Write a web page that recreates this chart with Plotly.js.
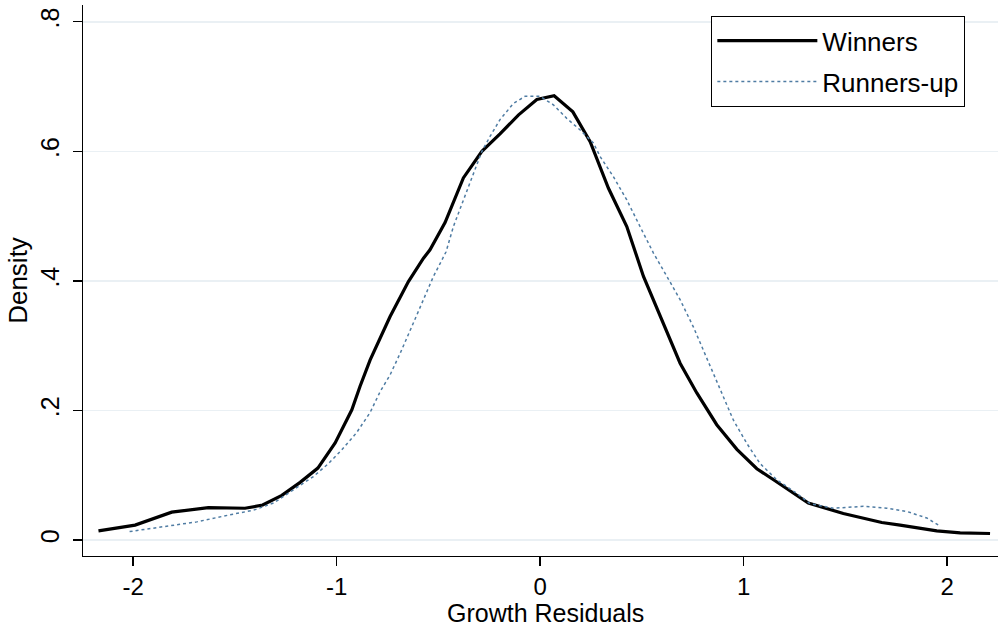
<!DOCTYPE html>
<html>
<head>
<meta charset="utf-8">
<script src="https://cdn.plot.ly/plotly-3.0.1.min.js"></script>
<style>html,body{margin:0;padding:0;background:#fff}#chart{width:998px;height:631px}</style>
</head>
<body>
<div id="chart"></div>
<script>
var winnersX = [-2.170,-1.990,-1.810,-1.630,-1.450,-1.363,-1.269,-1.179,-1.092,-1.007,-0.925,-0.885,-0.835,-0.786,-0.737,-0.647,-0.573,-0.541,-0.467,-0.377,-0.286,-0.197,-0.107,-0.016,0.069,0.161,0.246,0.336,0.426,0.508,0.590,0.688,0.770,0.868,0.967,1.065,1.147,1.318,1.490,1.679,1.769,1.949,2.064,2.211];
var winnersY = [0.014,0.023,0.043,0.050,0.049,0.054,0.069,0.089,0.111,0.150,0.201,0.237,0.278,0.311,0.345,0.399,0.435,0.448,0.490,0.559,0.600,0.627,0.656,0.680,0.686,0.661,0.615,0.543,0.484,0.407,0.345,0.273,0.227,0.178,0.140,0.110,0.093,0.057,0.041,0.027,0.023,0.014,0.011,0.010];
var runnersX = [-2.017,-1.851,-1.687,-1.523,-1.409,-1.310,-1.212,-1.114,-1.040,-0.975,-0.901,-0.835,-0.786,-0.737,-0.688,-0.639,-0.598,-0.557,-0.524,-0.491,-0.462,-0.426,-0.377,-0.328,-0.286,-0.246,-0.197,-0.131,-0.074,0.000,0.065,0.131,0.197,0.262,0.295,0.360,0.426,0.491,0.557,0.623,0.688,0.753,0.802,0.852,0.901,0.950,1.016,1.081,1.163,1.261,1.327,1.441,1.589,1.704,1.802,1.900,1.957];
var runnersY = [0.013,0.020,0.028,0.039,0.046,0.057,0.077,0.098,0.118,0.139,0.166,0.197,0.229,0.255,0.288,0.322,0.353,0.383,0.407,0.427,0.445,0.484,0.525,0.566,0.600,0.623,0.649,0.674,0.685,0.685,0.672,0.651,0.633,0.613,0.592,0.561,0.525,0.484,0.443,0.407,0.371,0.329,0.293,0.257,0.221,0.185,0.149,0.118,0.093,0.072,0.056,0.049,0.052,0.049,0.044,0.034,0.023];
var xTickVals = [-2,-1,0,1,2];
var xTickText = ["-2","-1","0","1","2"];
var yTickVals = [0,0.2,0.4,0.6,0.8];
var yTickText = ["0",".2",".4",".6",".8"];
var xTitle = 'Growth Residuals';
var yTitle = 'Density';

var font = "'Liberation Sans', Arial, Helvetica, sans-serif";
var traces = [
  {x: winnersX, y: winnersY, type: 'scatter', mode: 'lines', name: 'Winners', legendgroup: 'a',
   line: {color: '#000000', width: 3.2}},
  {x: runnersX, y: runnersY, type: 'scatter', mode: 'lines', name: 'Runners-up', legendgroup: 'b',
   line: {color: '#4f7ca3', width: 1.5, dash: 'dot'}}
];
var layout = {
  width: 998, height: 631,
  margin: {l: 83, r: 0, t: 5, b: 75},
  paper_bgcolor: '#ffffff', plot_bgcolor: '#ffffff',
  font: {family: font, size: 26, color: '#000'},
  xaxis: {range: [-2.246, 2.25], tickvals: xTickVals, ticktext: xTickText,
    showgrid: false, zeroline: false, showline: true, linecolor: '#000', linewidth: 1.3,
    ticks: 'outside', ticklen: 9, tickwidth: 1.3, tickcolor: '#000',
    tickfont: {size: 24}, ticklabelstandoff: 0},
  yaxis: {range: [-0.0247, 0.826], tickvals: yTickVals, ticktext: yTickText, tickangle: -90,
    showgrid: true, gridcolor: '#eaf0f4', gridwidth: 1.5, zeroline: false,
    showline: true, linecolor: '#000', linewidth: 1.3,
    ticks: 'outside', ticklen: 9, tickwidth: 1.3, tickcolor: '#000',
    tickfont: {size: 25}, ticklabelstandoff: 4,
    title: {text: yTitle, font: {size: 26}, standoff: 0}},
  annotations: [
    {text: xTitle, xref: 'paper', yref: 'paper', x: 0.505, y: 0, xanchor: 'center', yanchor: 'middle',
     yshift: -57, showarrow: false, font: {size: 25}}
  ],
  showlegend: true,
  legend: {x: 0.6865, y: 0.98, xanchor: 'left', yanchor: 'top',
    bordercolor: '#000', borderwidth: 1.2, bgcolor: '#fff',
    font: {size: 26}, itemwidth: 100, tracegroupgap: 4, traceorder: 'grouped'}
};
Plotly.newPlot('chart', traces, layout, {displayModeBar: false, staticPlot: true});
</script>
</body>
</html>
